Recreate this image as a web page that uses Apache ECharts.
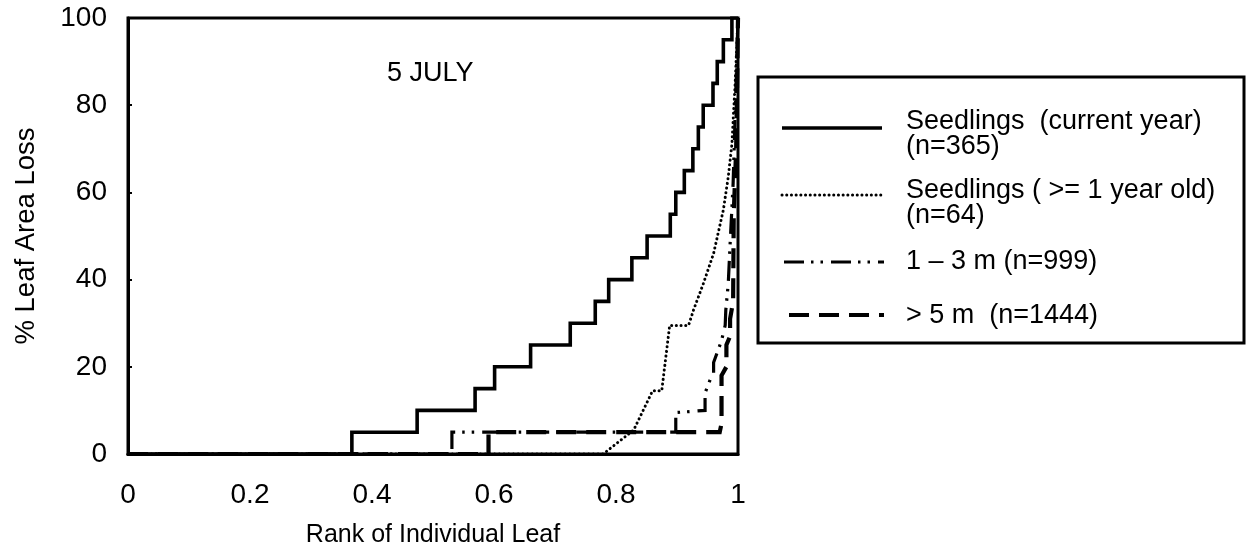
<!DOCTYPE html>
<html>
<head>
<meta charset="utf-8">
<script src="https://cdn.jsdelivr.net/npm/echarts@6/dist/echarts.min.js"></script>
<style>
  html, body { margin: 0; padding: 0; background: #fff; }
  #chart { width: 1248px; height: 555px; }
</style>
</head>
<body>
<div id="chart"></div>
<script>
// Cumulative distribution of leaf area loss by plant size class (5 July)

const xTickLabels = ['0', '0.2', '0.4', '0.6', '0.8', '1'];
const yTickLabels = ['0', '20', '40', '60', '80', '100'];

const seriesNames = [
  'Seedlings  (current year)\n(n=365)',
  'Seedlings ( >= 1 year old)\n(n=64)',
  '1 \u2013 3 m (n=999)',
  '> 5 m  (n=1444)'
];

// Seedlings (current year): rank at which loss steps up, and the loss class reached there
const currentRank = [0, 0.367, 0.474, 0.569, 0.601, 0.660, 0.725, 0.766, 0.788, 0.826, 0.851,
                     0.889, 0.898, 0.912, 0.926, 0.935, 0.943, 0.959, 0.966, 0.976, 0.990, 1];
const currentLoss = [0, 5, 10, 15, 20, 25, 30, 35, 40, 45, 50,
                     55, 60, 65, 70, 75, 80, 85, 90, 95, 100, 100];

// Seedlings (>= 1 year old)
const olderRank = [0, 0.779, 0.829, 0.860, 0.875, 0.888, 0.919, 0.927, 0.943, 0.960, 0.976, 0.984, 0.990, 0.993, 0.995, 1];
const olderLoss = [0, 0, 5.5, 14.5, 14.5, 29.5, 29.5, 33, 39, 46, 56, 63.5, 71, 79, 84, 100];

// 1 - 3 m saplings
const midRank = [0, 0.531, 0.531, 0.898, 0.898, 0.946, 0.946, 0.957, 0.960, 0.960, 0.973, 0.979, 0.980, 0.984, 0.987, 0.992, 1];
const midLoss = [0, 0, 5, 5, 9.5, 10, 14, 18, 18.5, 21, 26, 29.5, 33, 39, 48, 62, 100];

// > 5 m trees
const tallRank = [0, 0.591, 0.591, 0.970, 0.973, 0.973, 0.981, 0.981, 0.987, 0.987, 0.992, 0.993, 0.997, 1];
const tallLoss = [0, 0, 5, 5, 7, 18, 20, 25, 27, 31, 35, 55, 70, 100];

function stepPoints(rank, loss) {
  const pts = [[rank[0], loss[0]]];
  for (let i = 1; i < rank.length; i++) {
    pts.push([rank[i], loss[i - 1]]);
    pts.push([rank[i], loss[i]]);
  }
  return pts;
}
function zipPoints(rank, loss) {
  return rank.map((r, i) => [r, loss[i]]);
}

const FONT = "'Liberation Sans', Arial, Helvetica, sans-serif";

const styles = [
  { width: 3.6, type: 'solid', cap: 'butt' },
  { width: 3, type: [0.1, 4.6], cap: 'round' },
  { width: 3.2, type: [20, 7, 2.5, 7, 2.5, 8], cap: 'butt' },
  { width: 4.2, type: [20, 10], cap: 'butt' }
];

const seriesData = [
  stepPoints(currentRank, currentLoss),
  zipPoints(olderRank, olderLoss),
  zipPoints(midRank, midLoss),
  zipPoints(tallRank, tallLoss)
];

const chart = echarts.init(document.getElementById('chart'), null, { renderer: 'canvas' });

// legend box, drawn as graphics beside the plot
const legendBox = { x: 758, y: 77, w: 486, h: 266 };
const legendSampleX = [[782, 882], [782, 882], [784, 884], [789, 884]];
const legendSampleY = [128, 195, 262, 315];
const legendTextX = 906;
const legendTextY = [[121.5, 146.5], [190.5, 216], [261.5], [315.5]];

const graphics = [
  {
    type: 'rect',
    shape: { x: legendBox.x, y: legendBox.y, width: legendBox.w, height: legendBox.h },
    style: { fill: 'none', stroke: '#000', lineWidth: 3 }
  },
  {
    type: 'text',
    left: 387, top: 60,
    style: { text: '5 JULY', font: '27px ' + FONT, fill: '#000' }
  }
];
seriesNames.forEach((name, i) => {
  const st = styles[i];
  graphics.push({
    type: 'line',
    shape: { x1: legendSampleX[i][0], y1: legendSampleY[i], x2: legendSampleX[i][1], y2: legendSampleY[i] },
    style: {
      stroke: '#000', lineWidth: st.width, lineCap: st.cap,
      lineDash: Array.isArray(st.type) ? st.type : null
    }
  });
  name.split('\n').forEach((line, j) => {
    graphics.push({
      type: 'text',
      x: legendTextX, y: legendTextY[i][j],
      style: { text: line, font: '27px ' + FONT, fill: '#000', verticalAlign: 'middle' }
    });
  });
});

chart.setOption({
  animation: false,
  backgroundColor: '#fff',
  textStyle: { fontFamily: FONT },
  grid: {
    left: 128, right: 510, top: 18, bottom: 101,
    show: true, borderColor: '#000', borderWidth: 3, backgroundColor: 'transparent'
  },
  xAxis: {
    type: 'value', min: 0, max: 1, interval: 0.2,
    name: 'Rank of Individual Leaf',
    nameLocation: 'middle', nameGap: 69,
    nameTextStyle: { fontSize: 25, color: '#000', fontFamily: FONT },
    axisLine: { show: true, lineStyle: { color: '#000', width: 3 } },
    axisTick: { show: false },
    splitLine: { show: false },
    axisLabel: {
      fontSize: 28, color: '#000', margin: 27, fontFamily: FONT,
      formatter: (v) => xTickLabels[Math.round(v / 0.2)]
    }
  },
  yAxis: {
    type: 'value', min: 0, max: 100, interval: 20,
    name: '% Leaf Area Loss',
    nameLocation: 'middle', nameGap: 88,
    nameTextStyle: { fontSize: 27.5, color: '#000', fontFamily: FONT },
    axisLine: { show: true, lineStyle: { color: '#000', width: 3 } },
    axisTick: { show: true, inside: true, length: 4, lineStyle: { color: '#000', width: 2 } },
    splitLine: { show: false },
    axisLabel: {
      fontSize: 28, color: '#000', margin: 21, fontFamily: FONT,
      formatter: (v) => yTickLabels[Math.round(v / 20)]
    }
  },
  series: seriesNames.map((name, i) => ({
    name: name,
    type: 'line',
    data: seriesData[i],
    symbol: 'none',
    clip: true,
    z: 4 - i,
    lineStyle: { color: '#000', width: styles[i].width, type: styles[i].type, cap: styles[i].cap, join: 'miter' }
  })),
  graphic: graphics
});
</script>
</body>
</html>
